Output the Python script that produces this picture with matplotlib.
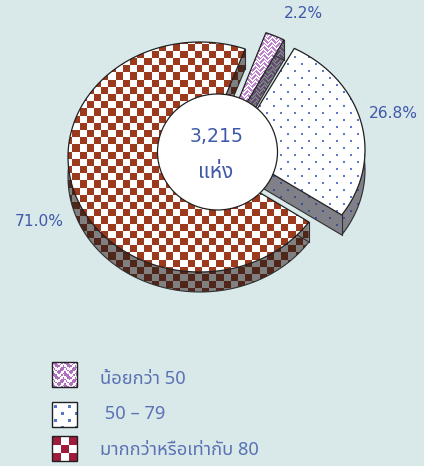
import numpy as np
import matplotlib
matplotlib.use("Agg")
import matplotlib.pyplot as plt
from matplotlib.colors import to_rgb
from matplotlib.patches import Ellipse, PathPatch, Rectangle, Polygon
from matplotlib.path import Path
from matplotlib.transforms import Affine2D

plt.rcParams['font.family'] = ['Noto Sans', 'Noto Sans Thai', 'Noto Sans CJK SC', 'DejaVu Sans']

shares = [71.0, 26.8, 2.2]
share_labels = ['71.0%', '26.8%', '2.2%']
legend_labels = ['น้อยกว่า 50', ' 50 – 79', 'มากกว่าหรือเท่ากับ 80']
total_label = '3,215'
unit_label = 'แห่ง'

W, H = 424, 466
BG = '#d9e8e9'
BLUE = '#4059aa'
LEGEND_BLUE = '#5a72b4'
DEPTH = 20

yy, xx = np.mgrid[0:H, 0:W]


def paint(mask, fg, bg):
    # whole canvas sized picture, it gets clipped later
    img = np.zeros((H, W, 3), dtype=np.uint8)
    img[:] = (np.array(to_rgb(bg)) * 255).astype(np.uint8)
    img[mask] = (np.array(to_rgb(fg)) * 255).astype(np.uint8)
    return img


def checker(fg, bg, cell=7.2, x0=0, y0=0):
    mask = (np.floor((xx - x0) / cell) + np.floor((yy - y0) / cell)) % 2 == 0
    return paint(mask, fg, bg)


def dots(fg, bg, step=7, size=2, x0=0, y0=0):
    col = (xx - x0) // step
    row = (yy - y0) // step
    mask = ((col + row) % 2 == 0) & ((xx - x0) % step < size) & ((yy - y0) % step < size)
    return paint(mask, fg, bg)


def weave(fg, bg, scale=1.0, x0=0, y0=0):
    tile = np.array([
        [1, 1, 1, 0, 0, 0, 1, 0],
        [0, 1, 1, 1, 0, 1, 0, 0],
        [0, 0, 1, 1, 1, 0, 0, 1],
        [1, 0, 0, 1, 0, 0, 1, 1],
        [0, 1, 0, 0, 0, 1, 1, 1],
        [0, 0, 1, 0, 1, 1, 1, 0],
        [1, 0, 0, 1, 1, 1, 0, 0],
        [1, 1, 0, 0, 1, 0, 0, 1],
    ], dtype=bool)
    ix = ((xx - x0) / scale).astype(int) % 8
    iy = ((yy - y0) / scale).astype(int) % 8
    return paint(tile[iy, ix], fg, bg)


def clipped_image(ax, img, path):
    im = ax.imshow(img, extent=(0, W, H, 0), interpolation='nearest', zorder=2)
    im.set_clip_path(PathPatch(path, transform=ax.transData))


def draw_slice(ax, theta1, theta2, cx, cy, rx, ry, top_img, side_img):
    t = np.radians(np.linspace(theta1, theta2, 240))
    rim = np.column_stack([cx + rx * np.cos(t), cy - ry * np.sin(t)])
    top = np.vstack([[cx, cy], rim, [cx, cy]])

    # side face is the top shape swept down pixel by pixel
    side = Path.make_compound_path(*[Path(top + [0, d]) for d in range(1, DEPTH + 1)])
    clipped_image(ax, side_img, side)
    ax.add_patch(Polygon(top + [0, DEPTH], fc='none', ec='#303030', lw=0.8, zorder=2))
    for c in (rim[0], rim[-1]):
        ax.plot([c[0], c[0]], [c[1], c[1] + DEPTH], color='#303030', lw=0.8, zorder=2)

    clipped_image(ax, top_img, Path(top))
    ax.add_patch(Polygon(top, fc='none', ec='#202020', lw=0.9, zorder=2))


def main():
    fig = plt.figure(figsize=(W / 100, H / 100), dpi=100, facecolor=BG)
    ax = fig.add_axes([0, 0, 1, 1])
    ax.set_axis_off()

    start = 70.0
    sweep = [s / sum(shares) * 360 for s in shares]
    main_end = start + sweep[0]
    right_end = main_end + sweep[1]
    small_end = right_end + sweep[2]

    draw_slice(ax, start, main_end, 200, 157, 132, 115,
               checker('#9c3a1e', '#ffffff'), checker('#50251a', '#808080'))
    draw_slice(ax, right_end, small_end, 217, 153, 143, 128,
               weave('#bc80cc', '#ffffff'), weave('#5f4a6e', '#808088'))
    draw_slice(ax, main_end, right_end, 232, 150, 133, 115,
               dots('#5f78c8', '#ffffff'), dots('#3f4f96', '#808088'))

    num_font = ['DejaVu Sans', 'Noto Sans']
    ax.add_patch(Ellipse((217.5, 152), 120, 116, fc='white', ec='#202020', lw=0.9, zorder=3))
    ax.text(217, 137, total_label, color=BLUE, fontsize=13.6, family=num_font, ha='center', va='center', zorder=4)
    ax.text(216, 173, unit_label, color=BLUE, fontsize=15, fontweight='medium', ha='center', va='center', zorder=4)

    ax.text(39, 221, share_labels[0], color=BLUE, fontsize=11.2, family=num_font, ha='center', va='center')
    ax.text(393, 113, share_labels[1], color=BLUE, fontsize=11.2, family=num_font, ha='center', va='center')
    ax.text(303, 13, share_labels[2], color=BLUE, fontsize=11.2, family=num_font, ha='center', va='center')

    legend_imgs = [
        weave('#b070c0', '#ffffff', 1.5, 52, 362),
        dots('#5a74c8', '#ffffff', 7, 3, 54, 405),
        checker('#a01c3c', '#ffffff', 8.34, 52, 436),
    ]
    box_y = [362, 402, 436]
    text_y = [379, 414, 450]
    for img, y0, ty, lab in zip(legend_imgs, box_y, text_y, legend_labels):
        clipped_image(ax, img, Path.unit_rectangle().transformed(
            Affine2D().scale(25, 25).translate(52, y0)))
        ax.add_patch(Rectangle((52, y0), 25, 25, fc='none', ec='#202020', lw=1.0, zorder=3))
        ax.text(100, ty, lab, color=LEGEND_BLUE, fontsize=13.2, ha='left', va='center')

    ax.set_xlim(0, W)
    ax.set_ylim(H, 0)
    fig.savefig('out.png', dpi=100, facecolor=BG)


if __name__ == "__main__":
    main()
